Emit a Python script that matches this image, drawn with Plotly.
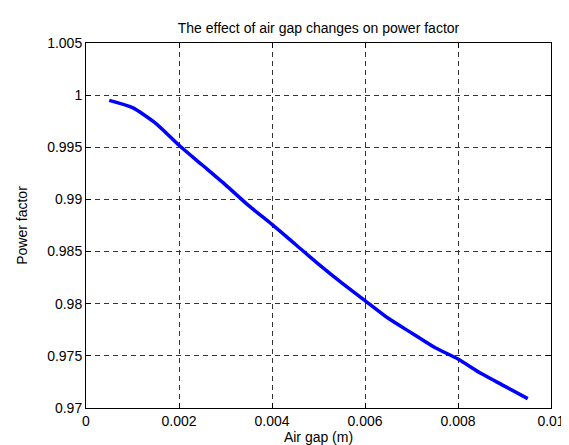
import plotly.graph_objects as go

air_gap = [0.0005, 0.0010, 0.0015, 0.0020, 0.0025, 0.0030, 0.0035, 0.0040, 0.0045, 0.0050,
           0.0055, 0.0060, 0.0065, 0.0070, 0.0075, 0.0080, 0.0085, 0.0090, 0.0095]
power_factor = [0.9995, 0.9988, 0.9973, 0.9952, 0.9933, 0.9914, 0.9894, 0.9876, 0.9857, 0.9838,
                0.9820, 0.9803, 0.9786, 0.9772, 0.9758, 0.9747, 0.9733, 0.9721, 0.9709]

x_ticks = [0, 0.002, 0.004, 0.006, 0.008, 0.01]
x_tick_labels = ["0", "0.002", "0.004", "0.006", "0.008", "0.01"]
y_ticks = [0.97, 0.975, 0.98, 0.985, 0.99, 0.995, 1.0, 1.005]
y_tick_labels = ["0.97", "0.975", "0.98", "0.985", "0.99", "0.995", "1", "1.005"]

font = dict(family="Liberation Sans, Arial, sans-serif", size=14, color="black")

fig = go.Figure()
fig.add_trace(go.Scatter(x=air_gap, y=power_factor, mode="lines",
                         line=dict(color="#0000ff", width=3.5, shape="spline", smoothing=0.6),
                         showlegend=False))

axis_common = dict(
    showline=True, linecolor="black", linewidth=1, mirror="ticks",
    ticks="inside", ticklen=5, tickcolor="black", tickwidth=1,
    showgrid=True, gridcolor="#333333", gridwidth=1, griddash="5px,4px",
    zeroline=False, tickfont=font,
)

fig.update_xaxes(range=[0, 0.01], tickvals=x_ticks, ticktext=x_tick_labels,
                 title=dict(text="Air gap (m)", font=font, standoff=2), **axis_common)
fig.update_yaxes(range=[0.97, 1.005], tickvals=y_ticks, ticktext=y_tick_labels,
                 title=dict(text="Power factor", font=font, standoff=16), **axis_common)

fig.update_layout(
    width=569, height=445,
    margin=dict(l=78, r=22, t=35, b=39),
    paper_bgcolor="white", plot_bgcolor="white",
    font=font,
    title=dict(text="The effect of air gap changes on power factor", font=font,
               x=0.5, xanchor="center", xref="paper", y=1, yref="paper",
               yanchor="bottom", pad=dict(b=10)),
)

fig.write_html("out.html")
